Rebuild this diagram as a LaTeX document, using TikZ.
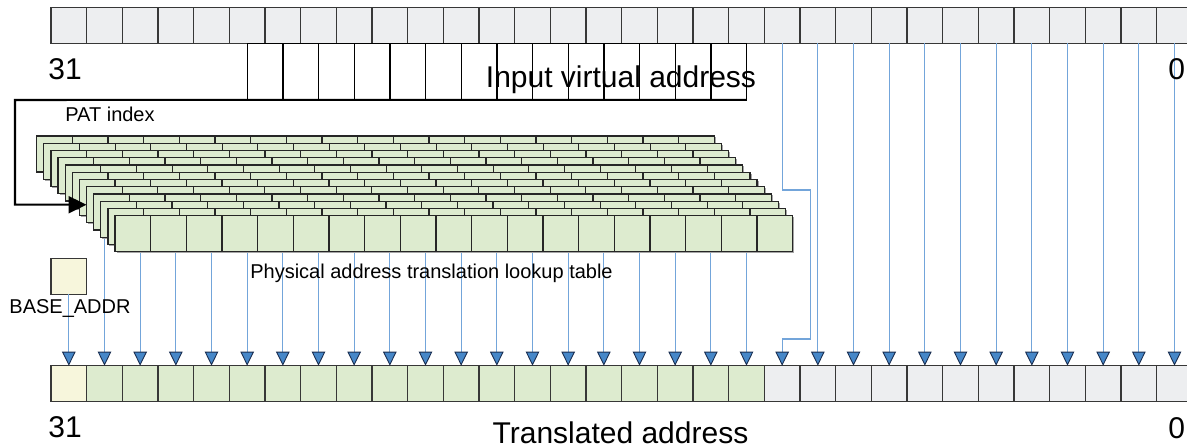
\documentclass[tikz,border=0pt]{standalone}
\usepackage{fontspec}
\setmainfont{Liberation Sans}
\usetikzlibrary{arrows.meta,positioning,calc}
\definecolor{cellgrey}{RGB}{237,238,240}
\definecolor{cellgreen}{RGB}{221,235,207}
\definecolor{cellyellow}{RGB}{247,246,220}
\definecolor{cellborder}{RGB}{55,55,55}
\definecolor{shadowgrey}{RGB}{165,165,165}
\definecolor{linkblue}{RGB}{115,165,218}
\definecolor{tipblue}{RGB}{70,135,200}
\definecolor{tipnavy}{RGB}{25,45,80}
\newcommand{\cw}{35.667}

\begin{document}
\begin{tikzpicture}[x=0.02cm, y=-0.02cm,
        bit/.style={rectangle, draw=cellborder, line width=0.7pt, minimum width=0.7133cm, minimum height=0.72cm, inner sep=0pt, outer sep=0pt, anchor=north west},
        vbit/.style={bit, fill=cellgrey},
        wbit/.style={bit, draw=black, line width=0.9pt, fill=white, minimum height=1.134cm},
        lutbit/.style={bit, draw=black!85, fill=cellgreen},
        basebit/.style={bit, fill=cellyellow},
        bitline/.style={draw=linkblue, line width=0.6pt, -{Triangle[length=0.28cm, width=0.27cm, color=tipnavy, fill=tipblue, line width=0.5pt]}},
        patline/.style={draw=black, line width=1.15pt, -{Triangle[length=0.36cm, width=0.34cm]}},
        bigtext/.style={font=\fontsize{17.07}{20}\selectfont, inner sep=0pt},
        smalltext/.style={font=\fontsize{11.38}{14}\selectfont, inner sep=0pt}
    ]
    \clip (0,0) rectangle (1187,448);
    % input virtual address
    \foreach \i in {0,...,31}
        \node[vbit] (va\i) at ({51+\i*\cw},7.3) {};
    \foreach \i in {0,...,13}
        \node[wbit] (wb\i) at ({247.3+\i*\cw},43.3) {};
    % translated address
    \node[basebit] (ta0) at (51,365.7) {};
    \foreach \i in {1,...,19}
        \node[bit, fill=cellgreen] (ta\i) at ({51+\i*\cw},365.7) {};
    \foreach \i in {20,...,31}
        \node[vbit] (ta\i) at ({51+\i*\cw},365.7) {};
    % base address
    \node[basebit] (base) at (51,258.3) {};
    \draw[bitline] (base.south) -- (ta0.north);
    % offset bits
    \coordinate (jogA) at (810.7,190);
    \coordinate (jogB) at (810.7,339);
    \draw[bitline] (va20.south) |- (jogA) -- (jogB) -| (ta20.north);
    \foreach \i in {21,...,31}
        \draw[bitline] (va\i.south) -- (ta\i.north);
    % table outputs (start under the table)
    \coordinate (lutmid) at (0,228);
    \foreach \i in {1,...,19}
        \draw[bitline] (ta\i.north |- lutmid) -- (ta\i.north);
    % lookup table, back to front
    \foreach \k in {0,...,11} {
        \fill[shadowgrey] ({36.7+7.12*\k+1.5},{136+7.25*\k+1.5}) rectangle ++(677.7,36);
        \foreach \i in {0,...,18}
            \node[lutbit] (lay\k-\i) at ({36.7+7.12*\k+\i*\cw},{136+7.25*\k}) {};
    }
    % PAT index
    \coordinate (patturn) at (15,100);
    \draw[patline] (wb13.south east) -- (wb0.south west) -- (patturn) |- (lay7-0.west);
    % labels
    \node[bigtext, anchor=base west] (msbin) at (48,80) {31};
    \node[bigtext, anchor=base west] (lsbin) at (1168,80) {0};
    \node[bigtext, anchor=base] (inlabel) at (621,88) {Input virtual address};
    \node[smalltext, anchor=base west] (patlabel) at (65,122) {PAT index};
    \node[smalltext, anchor=base west] (lutlabel) at (250,279) {Physical address translation lookup table};
    \node[smalltext, anchor=base] (baselabel) at (70,314) {BASE\_ADDR};
    \node[bigtext, anchor=base west] (msbout) at (48,438) {31};
    \node[bigtext, anchor=base west] (lsbout) at (1168,439) {0};
    \node[bigtext, anchor=base] (outlabel) at (620.5,444) {Translated address};
\end{tikzpicture}
\end{document}
